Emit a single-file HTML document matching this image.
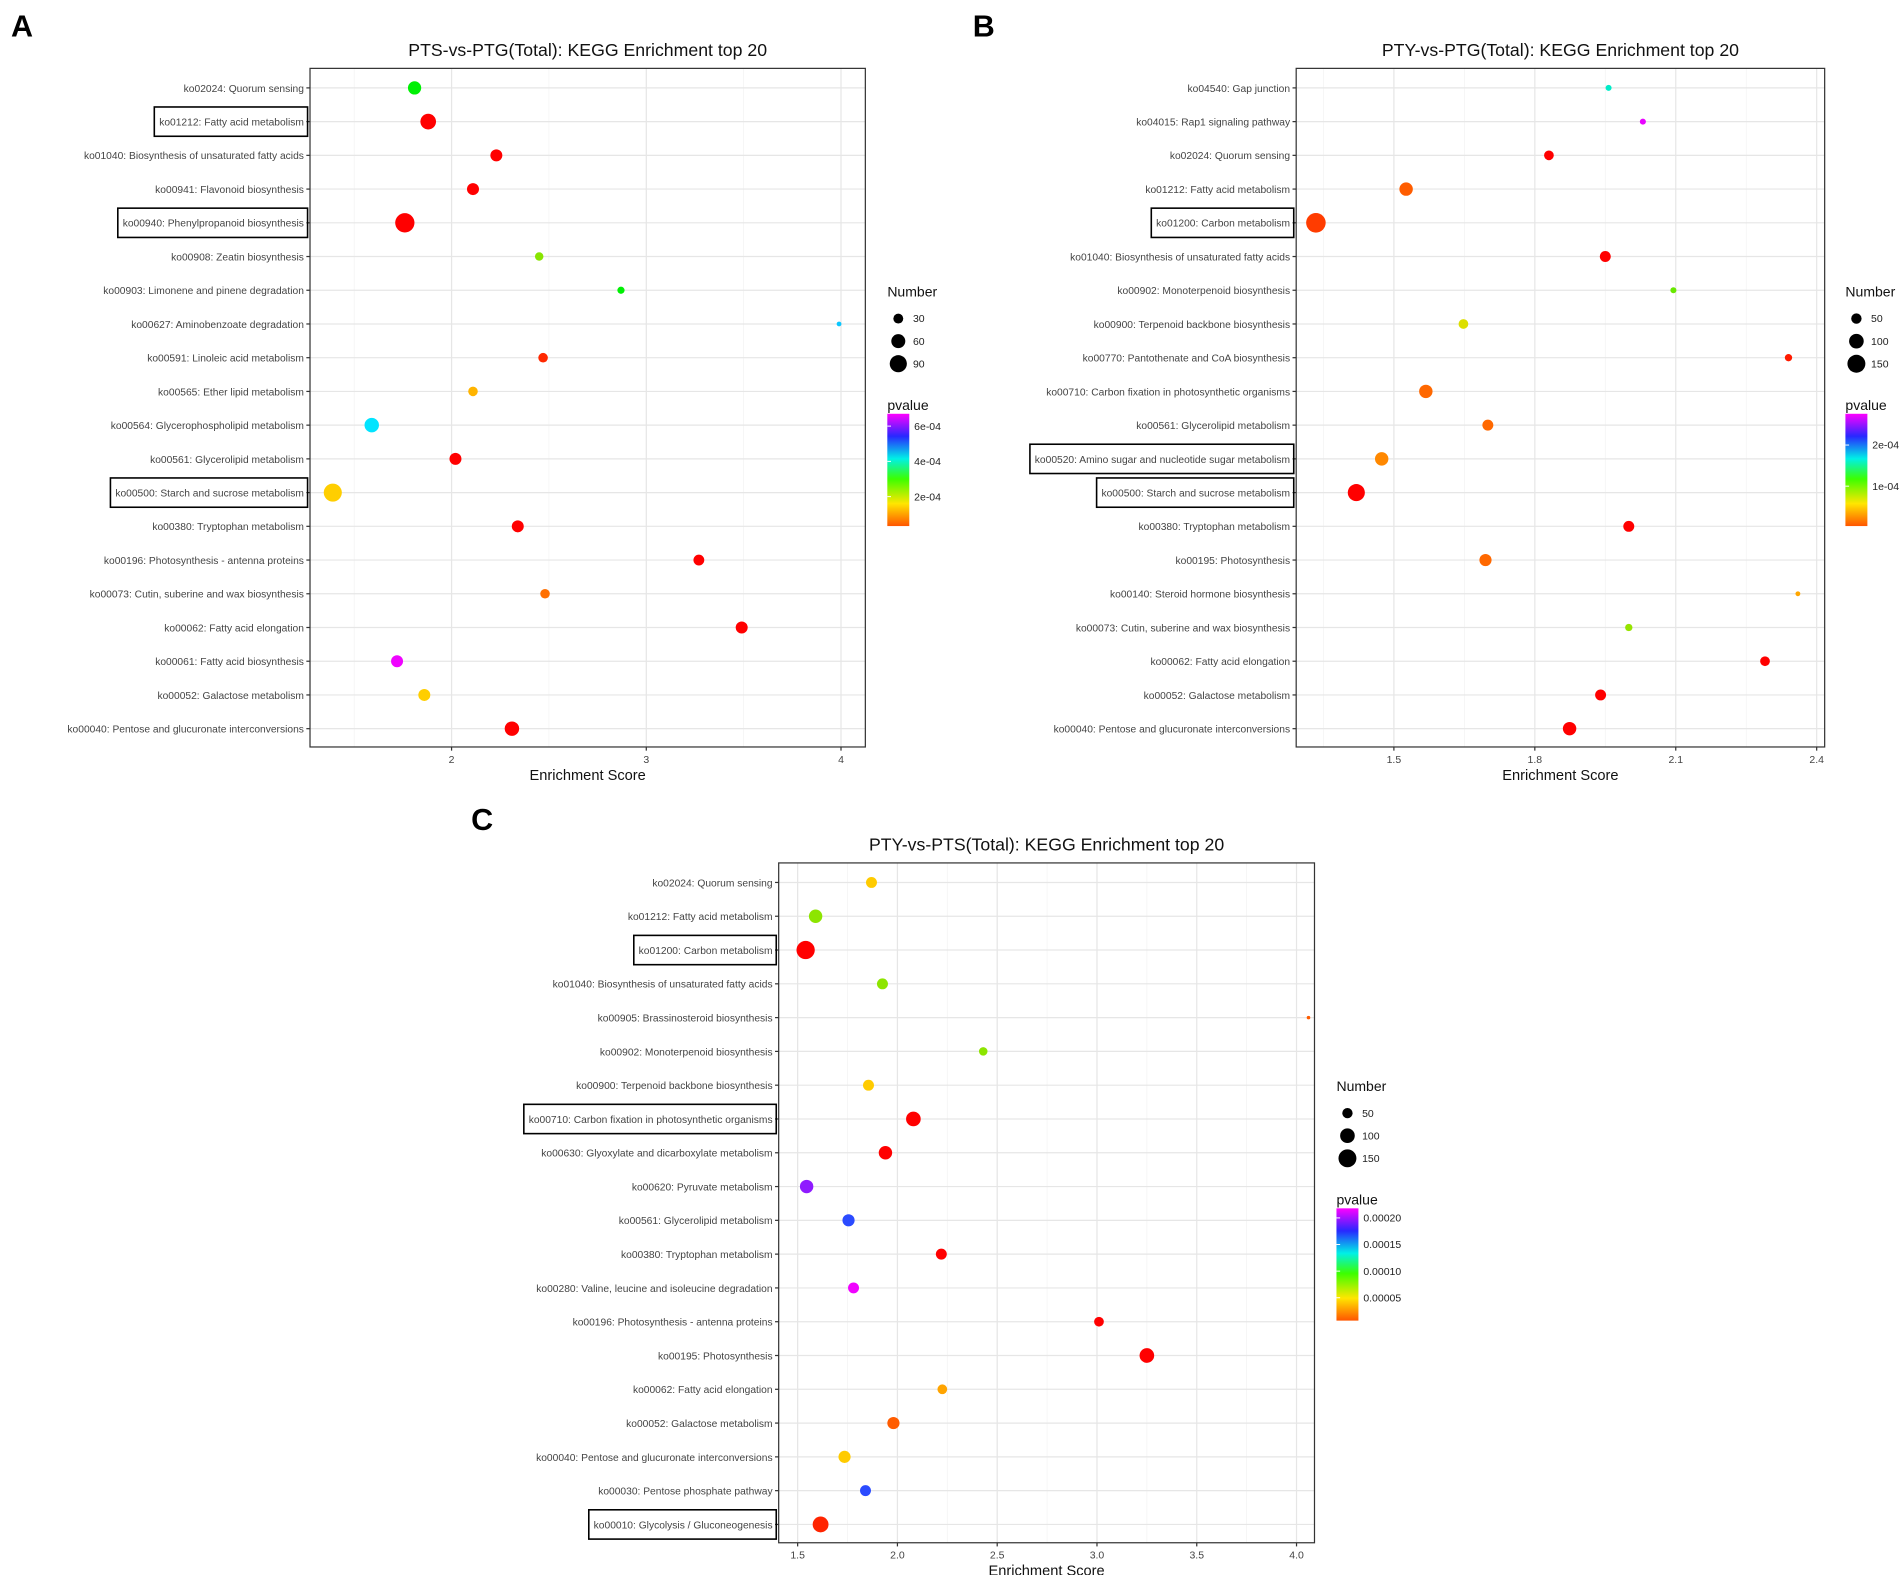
<!DOCTYPE html>
<html><head><meta charset="utf-8">
<style>
html,body{margin:0;padding:0;background:#fff;}
svg{display:block;font-family:"Liberation Sans",sans-serif;}
</style></head>
<body>
<svg id="fig" width="1904" height="1575" viewBox="0 0 1560 1290.4" xmlns="http://www.w3.org/2000/svg"></svg>
<script>
// ---------- Panel A data ----------
const aLabels=["ko02024: Quorum sensing","ko01212: Fatty acid metabolism","ko01040: Biosynthesis of unsaturated fatty acids","ko00941: Flavonoid biosynthesis","ko00940: Phenylpropanoid biosynthesis","ko00908: Zeatin biosynthesis","ko00903: Limonene and pinene degradation","ko00627: Aminobenzoate degradation","ko00591: Linoleic acid metabolism","ko00565: Ether lipid metabolism","ko00564: Glycerophospholipid metabolism","ko00561: Glycerolipid metabolism","ko00500: Starch and sucrose metabolism","ko00380: Tryptophan metabolism","ko00196: Photosynthesis - antenna proteins","ko00073: Cutin, suberine and wax biosynthesis","ko00062: Fatty acid elongation","ko00061: Fatty acid biosynthesis","ko00052: Galactose metabolism","ko00040: Pentose and glucuronate interconversions"];
const aScore=[1.81,1.88,2.23,2.11,1.76,2.45,2.87,3.99,2.47,2.11,1.59,2.02,1.39,2.34,3.27,2.48,3.49,1.72,1.86,2.31];
const aCount=[54,75,44,44,114,22,16,7,28,28,64,44,100,44,36,28,44,44,44,64];
const aPval=[2.9e-4,0,0,0,0,2.2e-4,2.9e-4,4.4e-4,0.5e-4,1.3e-4,4.2e-4,0,1.5e-4,0,0,0.8e-4,0,6.6e-4,1.5e-4,0];
const aBoxed=[1,4,12];
const aTicks=[2,3,4];
const aSizeLegend=[30,60,90];
const aPTicks=[2e-4,4e-4,6e-4];
const aPTickText=["2e-04","4e-04","6e-04"];
// ---------- Panel B data ----------
const bLabels=["ko04540: Gap junction","ko04015: Rap1 signaling pathway","ko02024: Quorum sensing","ko01212: Fatty acid metabolism","ko01200: Carbon metabolism","ko01040: Biosynthesis of unsaturated fatty acids","ko00902: Monoterpenoid biosynthesis","ko00900: Terpenoid backbone biosynthesis","ko00770: Pantothenate and CoA biosynthesis","ko00710: Carbon fixation in photosynthetic organisms","ko00561: Glycerolipid metabolism","ko00520: Amino sugar and nucleotide sugar metabolism","ko00500: Starch and sucrose metabolism","ko00380: Tryptophan metabolism","ko00195: Photosynthesis","ko00140: Steroid hormone biosynthesis","ko00073: Cutin, suberine and wax biosynthesis","ko00062: Fatty acid elongation","ko00052: Galactose metabolism","ko00040: Pentose and glucuronate interconversions"];
const bScore=[1.957,2.03,1.83,1.526,1.334,1.95,2.095,1.648,2.34,1.568,1.70,1.474,1.42,2.0,1.695,2.36,2.0,2.29,1.94,1.874];
const bCount=[17,17,44,84,178,56,17,44,25,84,56,84,136,56,69,11,25,44,56,84];
const bPval=[1.55e-4,2.7e-4,0,0.2e-4,0.14e-4,0,0.9e-4,0.65e-4,0.08e-4,0.22e-4,0.22e-4,0.3e-4,0,0,0.22e-4,0.4e-4,0.8e-4,0,0,0];
const bBoxed=[4,11,12];
const bTicks=[1.5,1.8,2.1,2.4];
const bSizeLegend=[50,100,150];
const bPTicks=[1e-4,2e-4];
const bPTickText=["1e-04","2e-04"];
// ---------- Panel C data ----------
const cLabels=["ko02024: Quorum sensing","ko01212: Fatty acid metabolism","ko01200: Carbon metabolism","ko01040: Biosynthesis of unsaturated fatty acids","ko00905: Brassinosteroid biosynthesis","ko00902: Monoterpenoid biosynthesis","ko00900: Terpenoid backbone biosynthesis","ko00710: Carbon fixation in photosynthetic organisms","ko00630: Glyoxylate and dicarboxylate metabolism","ko00620: Pyruvate metabolism","ko00561: Glycerolipid metabolism","ko00380: Tryptophan metabolism","ko00280: Valine, leucine and isoleucine degradation","ko00196: Photosynthesis - antenna proteins","ko00195: Photosynthesis","ko00062: Fatty acid elongation","ko00052: Galactose metabolism","ko00040: Pentose and glucuronate interconversions","ko00030: Pentose phosphate pathway","ko00010: Glycolysis / Gluconeogenesis"];
const cScore=[1.87,1.59,1.54,1.925,4.06,2.43,1.855,2.08,1.94,1.545,1.755,2.22,1.78,3.01,3.25,2.225,1.98,1.735,1.84,1.615];
const cCount=[56,84,156,56,6,34,56,100,84,84,69,56,56,44,100,44,69,69,56,117];
const cPval=[0.45e-4,0.68e-4,0,0.68e-4,0.2e-4,0.68e-4,0.45e-4,0,0.04e-4,1.95e-4,1.7e-4,0,2.15e-4,0,0,0.35e-4,0.2e-4,0.45e-4,1.7e-4,0.12e-4];
const cBoxed=[2,7,19];
const cTicks=[1.5,2.0,2.5,3.0,3.5,4.0];
const cSizeLegend=[50,100,150];
const cPTicks=[0.5e-4,1e-4,1.5e-4,2e-4];
const cPTickText=["0.00005","0.00010","0.00015","0.00020"];

const NS="http://www.w3.org/2000/svg";
const svg=document.getElementById('fig');
function mk(tag,attrs,parent){const e=document.createElementNS(NS,tag);for(const k in attrs)e.setAttribute(k,attrs[k]);(parent||svg).appendChild(e);return e;}
const stops=[[0,[255,85,0]],[0.2,[255,230,0]],[0.42,[60,255,0]],[0.6,[0,240,230]],[0.8,[40,40,255]],[1,[255,0,255]]];
const ptStops=[[0,[255,0,0]],[0.08,[255,120,0]],[0.2,[255,220,0]],[0.4,[0,240,0]],[0.6,[0,235,255]],[0.8,[50,50,255]],[1,[255,0,255]]];
function colorAt(t){
  if(t<=0)return 'rgb(255,0,0)';
  if(t>1)t=1;
  for(let i=1;i<ptStops.length;i++){if(t<=ptStops[i][0]){const a=ptStops[i-1],b=ptStops[i];const f=(t-a[0])/(b[0]-a[0]);return `rgb(${a[1].map((v,j)=>Math.round(v+(b[1][j]-v)*f)).join(',')})`;}}
  return 'rgb(255,0,255)';
}
let gid=0;
function panel(o){
  const g=mk('g',{});
  
  
  const L=o.box[0],T=o.box[1],R=o.box[2],B=o.box[3];
  const xs=v=>L+(v-o.dom[0])/(o.dom[1]-o.dom[0])*(R-L);
  const n=o.labels.length;
  const rowTop=T+16,rowBot=B-15;
  const ys=i=>rowTop+i*(rowBot-rowTop)/(n-1);
  const rs=c=>o.k*Math.sqrt(c);
  const pt=p=>(p-o.pRange[0])/(o.pRange[1]-o.pRange[0]);
  const letter=mk('text',{x:o.letter[0],y:o.letter[1],'font-size':25,'font-weight':'bold',fill:'#000'},g);
  letter.textContent=o.letterText;
  
  
  const title=mk('text',{x:(L+R)/2,y:T-10,'font-size':14.5,'text-anchor':'middle',fill:'#111'},g);
  title.textContent=o.title;
  
  
  const step=o.ticks[1]-o.ticks[0];
  const minors=[];for(let v=o.ticks[0]-step/2;v<o.dom[1];v+=step){if(v>o.dom[0])minors.push(v);}
  minors.forEach(v=>{const l=mk('line',{x1:xs(v),x2:xs(v),y1:T,y2:B,stroke:'#f3f3f3','stroke-width':0.6},g);});
  o.ticks.forEach(v=>{const l=mk('line',{x1:xs(v),x2:xs(v),y1:T,y2:B,stroke:'#e6e6e6','stroke-width':1},g);});
  o.labels.forEach((s,i)=>{const l=mk('line',{x1:L,x2:R,y1:ys(i),y2:ys(i),stroke:'#e6e6e6','stroke-width':1},g);});
  const frame=mk('rect',{x:L,y:T,width:R-L,height:B-T,fill:'none',stroke:'#333','stroke-width':1},g);
  
  o.labels.forEach((s,i)=>{
    const tk=mk('line',{x1:L-3,x2:L,y1:ys(i),y2:ys(i),stroke:'#333','stroke-width':1},g);
    
    const t=mk('text',{x:L-5,y:ys(i)+3.2,'font-size':8.4,'text-anchor':'end',fill:'#444'},g);
    t.textContent=s;
    
    
    if(o.boxed.indexOf(i)>=0){
      const w=t.getComputedTextLength();
      const bx=mk('rect',{x:L-5-w-4,y:ys(i)-12,width:w+7,height:24,fill:'none',stroke:'#000','stroke-width':1.3},g);
      
    }
  });
  o.ticks.forEach(v=>{
    const tk=mk('line',{x1:xs(v),x2:xs(v),y1:B,y2:B+3,stroke:'#333','stroke-width':1},g);
    
    const t=mk('text',{x:xs(v),y:B+13,'font-size':8.6,'text-anchor':'middle',fill:'#444'},g);
    t.textContent=o.tickFmt(v);
    
  });
  const xt=mk('text',{x:(L+R)/2,y:B+27,'font-size':12,'text-anchor':'middle',fill:'#111'},g);
  xt.textContent='Enrichment Score';
  
  o.labels.forEach((s,i)=>{
    const c=mk('circle',{cx:xs(o.score[i]),cy:ys(i),r:rs(o.count[i]),fill:colorAt(pt(o.pval[i]))},g);
    
    
  });
  const lx=o.legX;
  const nt=mk('text',{x:lx,y:o.legY,'font-size':11.5,fill:'#111'},g);
  nt.textContent='Number';
  o.sizeLegend.forEach((v,j)=>{
    const yy=o.legY+18+j*18.5;
    const c=mk('circle',{cx:lx+9,cy:yy,r:rs(v),fill:'#000'},g);
    
    const t=mk('text',{x:lx+21,y:yy+3,'font-size':8.6,fill:'#222'},g);
    t.textContent=v;
  });
  const py=o.legY+93;
  const pt2=mk('text',{x:lx,y:py,'font-size':11.5,fill:'#111'},g);
  pt2.textContent='pvalue';
  const id='grad'+(gid++);
  const defs=mk('defs',{},g);
  const lg=mk('linearGradient',{id:id,x1:0,y1:1,x2:0,y2:0},defs);
  stops.forEach(s=>mk('stop',{offset:s[0],'stop-color':`rgb(${s[1].join(',')})`},lg));
  const barT=py+3,barB=barT+o.barH;
  const bar=mk('rect',{x:lx,y:barT,width:18,height:o.barH,fill:`url(#${id})`},g);
  
  o.pTicks.forEach((p,j)=>{
    const yy=barB-pt(p)*o.barH;
    const t=mk('text',{x:lx+22,y:yy+3,'font-size':8.6,fill:'#222'},g);
    t.textContent=o.pTickText[j];
    const w1=mk('line',{x1:lx,x2:lx+3,y1:yy,y2:yy,stroke:'#fff','stroke-width':0.8},g);
    
  });
}
panel({name:'panel-a',letterText:'A',letter:[9,30],title:'PTS-vs-PTG(Total): KEGG Enrichment top 20',box:[254,56,709,612],dom:[1.273,4.125],labels:aLabels,score:aScore,count:aCount,pval:aPval,boxed:aBoxed,ticks:aTicks,tickFmt:v=>String(v),k:0.74,sizeLegend:aSizeLegend,legX:727,legY:243,pRange:[0.33e-4,6.7e-4],barH:92,pTicks:aPTicks,pTickText:aPTickText});
panel({name:'panel-b',letterText:'B',letter:[797,30],title:'PTY-vs-PTG(Total): KEGG Enrichment top 20',box:[1062,56,1495,612],dom:[1.292,2.417],labels:bLabels,score:bScore,count:bCount,pval:bPval,boxed:bBoxed,ticks:bTicks,tickFmt:v=>v.toFixed(1),k:0.6,sizeLegend:bSizeLegend,legX:1512,legY:243,pRange:[0.03e-4,2.76e-4],barH:92,pTicks:bPTicks,pTickText:bPTickText});
panel({name:'panel-c',letterText:'C',letter:[386,680],title:'PTY-vs-PTS(Total): KEGG Enrichment top 20',box:[638,707,1077,1264],dom:[1.405,4.09],labels:cLabels,score:cScore,count:cCount,pval:cPval,boxed:cBoxed,ticks:cTicks,tickFmt:v=>v.toFixed(1),k:0.6,sizeLegend:cSizeLegend,legX:1095,legY:894,pRange:[0.07e-4,2.18e-4],barH:92,pTicks:cPTicks,pTickText:cPTickText});
</script>
</body></html>
